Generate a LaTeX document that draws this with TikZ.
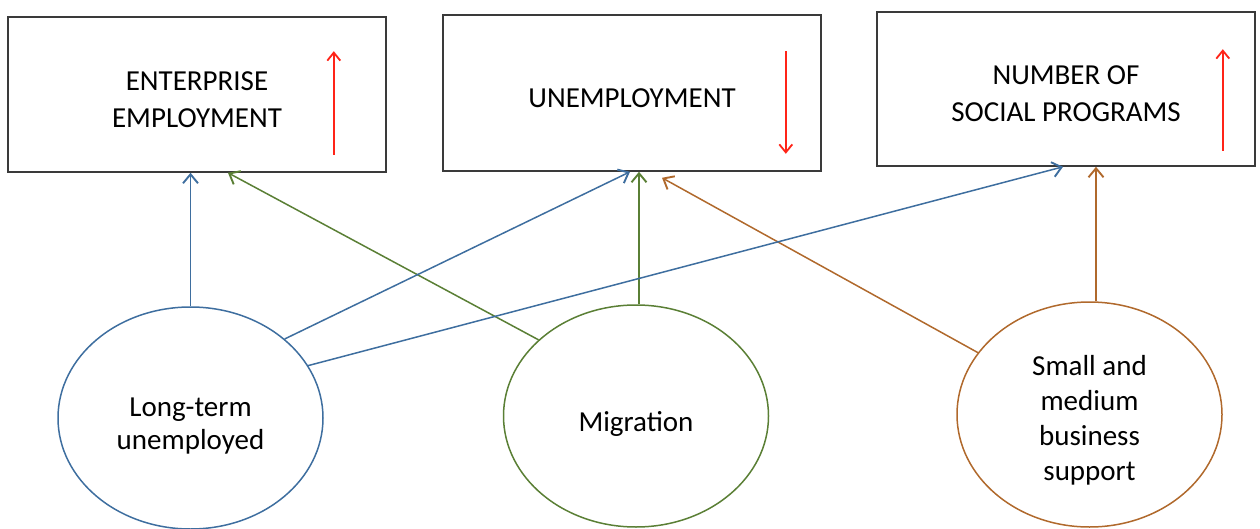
\documentclass[tikz,border=0pt]{standalone}
\usepackage{fontspec}
\setmainfont{Carlito}
\usetikzlibrary{shapes.geometric,arrows.meta,calc}
\definecolor{boxline}{HTML}{3A3A3A}
\definecolor{ltblue}{HTML}{3E6E9F}
\definecolor{miggreen}{HTML}{5A7F35}
\definecolor{smbrown}{HTML}{B0692C}
\definecolor{trendred}{HTML}{FF2418}
\begin{document}
\begin{tikzpicture}[x=1pt,y=-1pt,
  factor/.style={draw=boxline,line width=1.6pt,minimum width=378pt,minimum height=155pt,inner sep=0pt},
  cause/.style={ellipse,line width=1.5pt,minimum width=265pt,minimum height=222pt,inner sep=0pt},
  boxtext/.style={align=center,font=\fontsize{29}{37}\selectfont,yshift=-5pt},
  causetext/.style={align=center,font=\fontsize{29}{35}\selectfont,yshift=-5pt},
  link/.style={line width=1.5pt,-{Straight Barb[length=9pt,width=15pt,line width=1.9pt]}},
  trend/.style={draw=trendred,line width=1.4pt,-{Straight Barb[length=8pt,width=13pt,line width=1.8pt]}}
]
\useasboundingbox (0,0) rectangle (1260,529);

% outcome boxes
\node[factor,label={[boxtext]center:{ENTERPRISE\\EMPLOYMENT}}] (emp) at (197,94.5) {};
\node[factor,minimum height=156pt,label={[boxtext]center:{UNEMPLOYMENT}}] (unemp) at (632,93) {};
\node[factor,minimum height=154pt,label={[boxtext]center:{NUMBER OF\\SOCIAL PROGRAMS}}] (prog) at (1066,89) {};

% driving factors
\node[cause,draw=ltblue,
  label={[causetext,font=\fontsize{29}{33}\selectfont,yshift=-3pt]center:{Long-term\\unemployed}}] (lt) at (190.5,418) {};
\node[cause,draw=miggreen,label={[causetext,yshift=-3pt]center:{Migration}}] (mig) at (636,416) {};
\node[cause,draw=smbrown,minimum height=225pt,
  label={[causetext,yshift=-1pt]center:{Small and\\medium\\business\\support}}] (sm) at (1089.5,414.5) {};

% trend indicators
\draw[trend] ($(emp.south east)+(-53,-18)$) -- ($(emp.north east)+(-53,35)$);
\draw[trend] ($(unemp.north east)+(-36,37)$) -- ($(unemp.south east)+(-36,-18)$);
\draw[trend] ($(prog.south east)+(-33,-16)$) -- ($(prog.north east)+(-33,38)$);

% influences
\coordinate (migtop) at ($(mig.north)+(3,0)$);
\coordinate (smtop) at ($(sm.north)+(6.5,0)$);
\draw[link,ltblue] (lt.north) -- (lt.north |- emp.south);
\draw[link,miggreen] (mig.142.5) -- ($(emp.south)+(31,0)$);
\draw[link,ltblue] (lt.40) -- ($(unemp.south)+(-2,0)$);
\draw[link,miggreen] (migtop) -- (migtop |- unemp.south);
\draw[link,smbrown] (sm.151.6) -- ($(unemp.south)+(30,6)$);
\draw[link,ltblue] (lt.24.5) -- ($(prog.south)+(-3,0)$);
\draw[link,smbrown] (smtop) -- (smtop |- prog.south);
\end{tikzpicture}
\end{document}
